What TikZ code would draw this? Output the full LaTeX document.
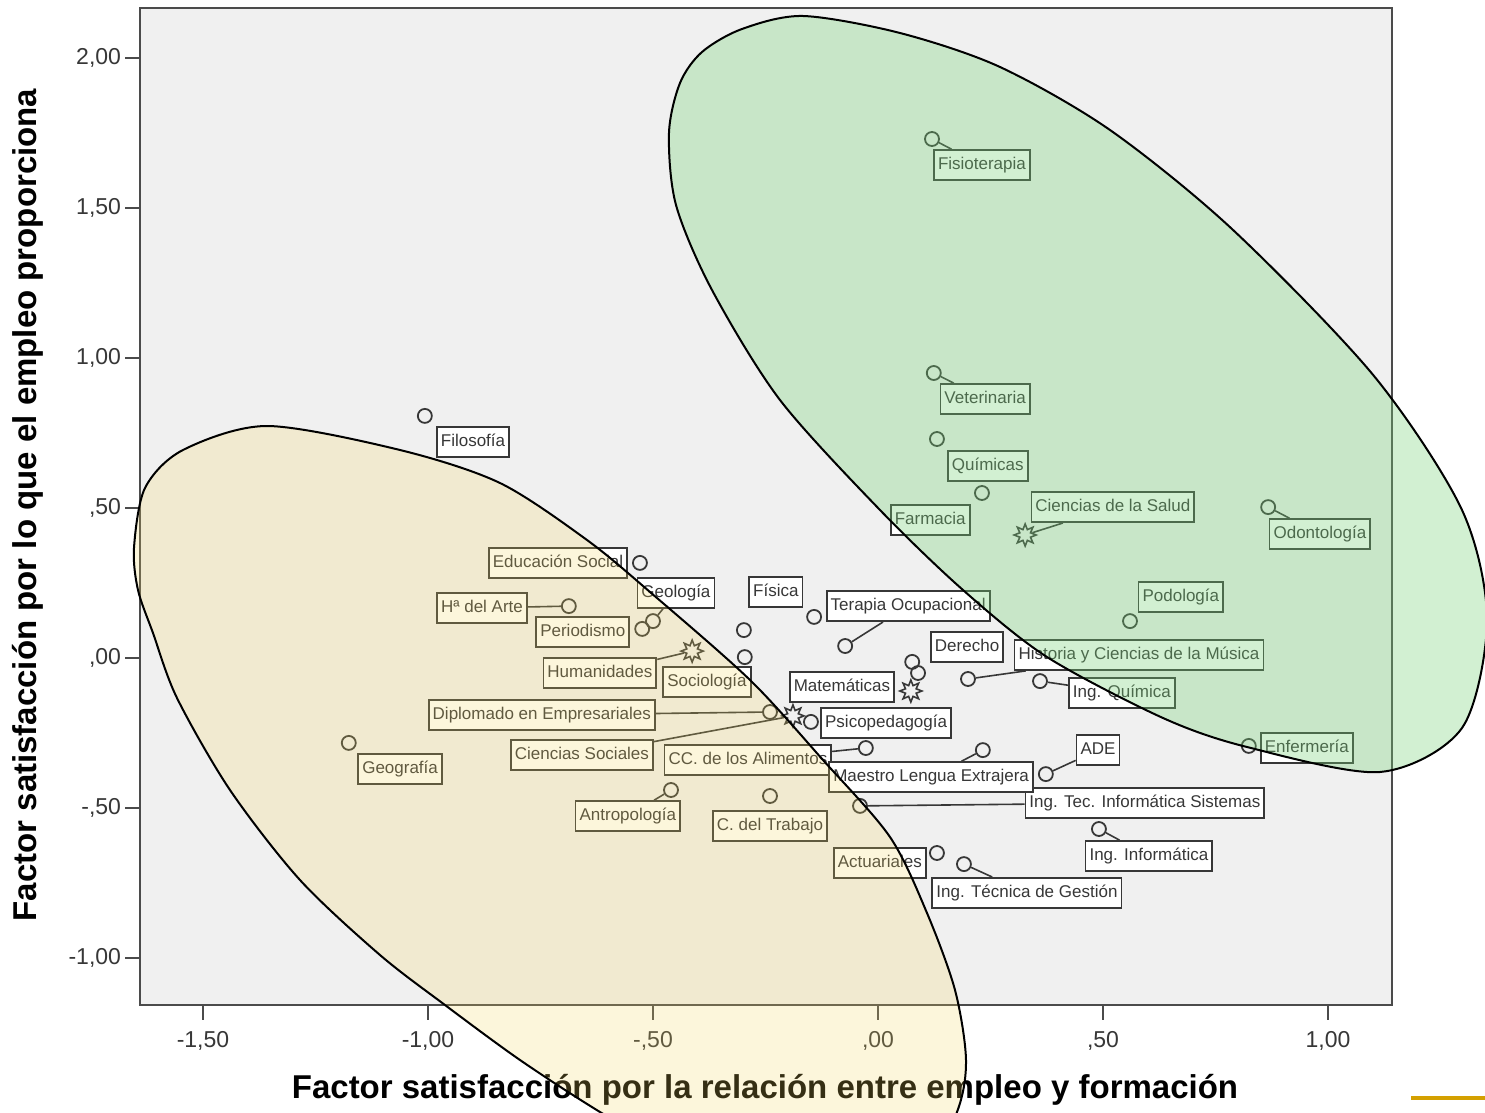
\documentclass[tikz,border=0pt]{standalone}
\usepackage{fontspec}
\setmainfont{Liberation Sans}
\usetikzlibrary{shapes.geometric}

\definecolor{plotbg}{RGB}{240,240,240}
\definecolor{framec}{RGB}{75,75,75}
\definecolor{inkc}{RGB}{55,55,55}
\definecolor{greenfill}{RGB}{120,210,120}
\definecolor{yellowfill}{RGB}{245,215,95}
\definecolor{goldline}{RGB}{212,160,0}

\tikzset{
  pnt/.style={circle, draw=inkc, line width=1.8pt, inner sep=0pt, minimum size=14pt},
  cent/.style={star, star points=8, star point ratio=1.9, draw=inkc, line width=1.6pt, inner sep=0pt, minimum size=22pt},
  lbl/.style={draw=inkc, fill=white, line width=1.8pt, text=inkc, inner xsep=4pt, inner ysep=7pt,
    text height=12.5pt, text depth=3.5pt, font=\fontsize{17}{20}\selectfont},
  conn/.style={draw=inkc, line width=1.6pt},
  tkl/.style={text=inkc, inner sep=0pt, font=\fontsize{23}{26}\selectfont},
  ttl/.style={text=black, inner sep=0pt, font=\fontsize{33}{36}\selectfont\bfseries},
  blob/.style={draw=black, line width=2pt}
}

\begin{document}
\begin{tikzpicture}[x=450pt, y=300pt]
        % canvas and plot area
        \useasboundingbox (-1.95111,-1.51333) rectangle (1.34889,2.19333);
        \fill[white] (-1.95111,-1.51333) rectangle (1.34889,2.19333);
        \fill[plotbg] (-1.64,-1.1567) rectangle (1.1422,2.1667);

        % y ticks
        \foreach \v/\t [count=\i] in {-1/{-1,00}, -0.5/{-,50}, 0/{,00}, 0.5/{,50}, 1/{1,00}, 1.5/{1,50}, 2/{2,00}}
            \draw[framec, line width=2pt] (-1.64,\v) -- (-1.6733,\v) node[tkl, anchor=east, xshift=-3pt] (yt\i) {\t};

        % x ticks
        \foreach \v/\t [count=\i] in {-1.5/{-1,50}, -1/{-1,00}, -0.5/{-,50}, 0/{,00}, 0.5/{,50}, 1/{1,00}}
            \draw[framec, line width=2pt] (\v,-1.1567) -- (\v,-1.2067) node[tkl, anchor=north, yshift=-10pt] (xt\i) {\t};

        % frame
        \draw[framec, line width=2.6pt] (-1.64,-1.1567) rectangle (1.1422,2.1667);

        % axis titles
        \node[ttl] (xtitle) at (-0.251,-1.44) {Factor satisfacción por la relación entre empleo y formación};
        \node[ttl, rotate=90] (ytitle) at (-1.889,0.51) {Factor satisfacción por lo que el empleo proporciona};

        % points
        \node[pnt] (fis) at (0.120,1.730) {};
        \node[pnt] (vet) at (0.124,0.950) {};
        \node[pnt] (qui) at (0.131,0.730) {};
        \node[pnt] (far) at (0.231,0.550) {};
        \node[pnt] (odo) at (0.867,0.503) {};
        \node[pnt] (pod) at (0.560,0.123) {};
        \node[pnt] (fil) at (-1.007,0.807) {};
        \node[pnt] (eds) at (-0.529,0.317) {};
        \node[pnt] (hart) at (-0.687,0.173) {};
        \node[pnt] (geol) at (-0.500,0.123) {};
        \node[pnt] (per) at (-0.524,0.097) {};
        \node[pnt] (pa) at (-0.298,0.093) {};
        \node[pnt] (soc) at (-0.296,0.003) {};
        \node[pnt] (fsc) at (-0.142,0.137) {};
        \node[pnt] (toc) at (-0.073,0.040) {};
        \node[pnt] (der) at (0.076,-0.013) {};
        \node[pnt] (pb) at (0.089,-0.050) {};
        \node[pnt] (his) at (0.200,-0.070) {};
        \node[pnt] (iqu) at (0.360,-0.077) {};
        \node[pnt] (dip) at (-0.240,-0.180) {};
        \node[pnt] (psi) at (-0.149,-0.213) {};
        \node[pnt] (cca) at (-0.027,-0.300) {};
        \node[pnt] (mle) at (0.233,-0.307) {};
        \node[pnt] (ade) at (0.373,-0.387) {};
        \node[pnt] (enf) at (0.824,-0.293) {};
        \node[pnt] (geog) at (-1.176,-0.283) {};
        \node[pnt] (ant) at (-0.460,-0.440) {};
        \node[pnt] (ctr) at (-0.240,-0.460) {};
        \node[pnt] (itis) at (-0.040,-0.493) {};
        \node[pnt] (iinf) at (0.491,-0.570) {};
        \node[pnt] (act) at (0.131,-0.650) {};
        \node[pnt] (itg) at (0.191,-0.687) {};

        % group centres
        \node[cent] (csal) at (0.327,0.410) {};
        \node[cent] (hum) at (-0.413,0.023) {};
        \node[cent] (mat) at (0.073,-0.110) {};
        \node[cent] (csoc) at (-0.189,-0.193) {};

        % labels
        \node[lbl] (fis-l) at (0.231,1.643) {Fisioterapia};
        \node[lbl] (vet-l) at (0.238,0.863) {Veterinaria};
        \node[lbl] (qui-l) at (0.244,0.640) {Químicas};
        \node[lbl] (far-l) at (0.116,0.460) {Farmacia};
        \node[lbl] (csal-l) at (0.522,0.503) {Ciencias de la Salud};
        \node[lbl] (odo-l) at (0.982,0.413) {Odontología};
        \node[lbl] (pod-l) at (0.673,0.203) {Podología};
        \node[lbl] (fil-l) at (-0.900,0.720) {Filosofía};
        \node[lbl] (eds-l) at (-0.711,0.317) {Educación Social};
        \node[lbl] (geol-l) at (-0.449,0.217) {Geología};
        \node[lbl] (fsc-l) at (-0.227,0.220) {Física};
        \node[lbl] (toc-l) at (0.067,0.173) {Terapia Ocupacional};
        \node[lbl] (hart-l) at (-0.880,0.167) {Hª del Arte};
        \node[lbl] (per-l) at (-0.656,0.087) {Periodismo};
        \node[lbl] (his-l) at (0.580,0.010) {Historia y Ciencias de la Música};
        \node[lbl] (der-l) at (0.198,0.037) {Derecho};
        \node[lbl] (hum-l) at (-0.618,-0.050) {Humanidades};
        \node[lbl] (soc-l) at (-0.380,-0.080) {Sociología};
        \node[lbl] (mat-l) at (-0.080,-0.097) {Matemáticas};
        \node[lbl] (iqu-l) at (0.542,-0.117) {Ing. Química};
        \node[lbl] (dip-l) at (-0.747,-0.190) {Diplomado en Empresariales};
        \node[lbl] (psi-l) at (0.018,-0.217) {Psicopedagogía};
        \node[lbl] (csoc-l) at (-0.658,-0.323) {Ciencias Sociales};
        \node[lbl] (cca-l) at (-0.289,-0.340) {CC. de los Alimentos};
        \node[lbl] (ade-l) at (0.489,-0.307) {ADE};
        \node[lbl] (enf-l) at (0.953,-0.300) {Enfermería};
        \node[lbl] (geog-l) at (-1.062,-0.370) {Geografía};
        \node[lbl] (itis-l) at (0.593,-0.483) {Ing. Tec. Informática Sistemas};
        \node[lbl] (mle-l) at (0.118,-0.397) {Maestro Lengua Extrajera};
        \node[lbl] (ant-l) at (-0.556,-0.527) {Antropología};
        \node[lbl] (ctr-l) at (-0.240,-0.560) {C. del Trabajo};
        \node[lbl] (iinf-l) at (0.602,-0.660) {Ing. Informática};
        \node[lbl] (act-l) at (0.004,-0.683) {Actuariales};
        \node[lbl] (itg-l) at (0.331,-0.783) {Ing. Técnica de Gestión};

        % leader lines
        \foreach \a in {fis, vet, odo, ant, iinf, itg, hart, geol, hum, dip, csoc, cca, mle, itis, ade, his, iqu, toc, csal}
            \draw[conn] (\a) -- (\a-l);

        % groups (pixel frame)
        \begin{scope}[x=1pt, y=-1pt, shift={(-878pt,658pt)}]
            \clip (0,0) rectangle (1485,1112);
            \filldraw[blob, fill=greenfill, fill opacity=0.33] plot[smooth cycle] coordinates {
                (669,133) (680,83) (702,52) (742,29) (803,16) (900,33) (1000,67) (1110,130)
                (1232,229) (1374,376) (1462,510) (1487,620) (1462,728) (1380,772) (1247,747)
                (1163,718) (1047,657) (963,590) (880,510) (780,400) (712,290) (676,205)};
            \filldraw[blob, fill=yellowfill, fill opacity=0.22] plot[smooth cycle] coordinates {
                (134,548) (145,488) (183,450) (267,426) (400,450) (500,483) (587,540) (650,592)
                (750,680) (823,760) (890,837) (927,913) (955,990) (966,1060) (957,1112) (920,1180)
                (820,1210) (700,1170) (600,1112) (520,1060) (445,1005) (380,955) (300,880)
                (230,790) (177,698) (153,633) (138,590)};
            \draw[goldline, line width=4pt] (1411,1098) -- (1485,1098);
        \end{scope}
    \end{tikzpicture}
\end{document}
